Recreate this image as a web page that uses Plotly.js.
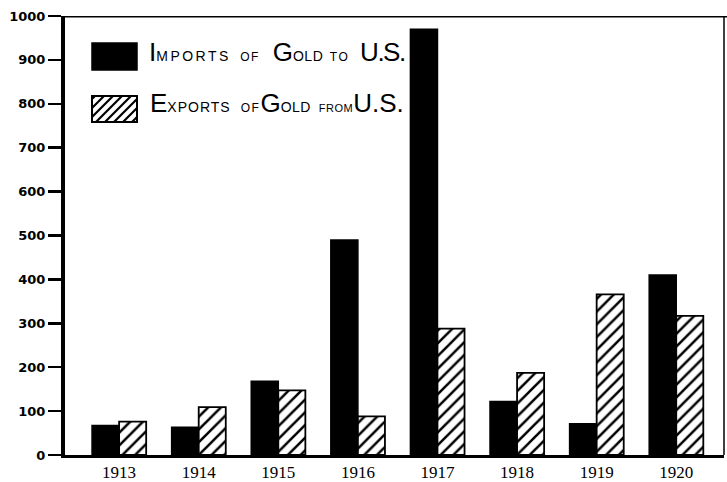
<!DOCTYPE html>
<html>
<head>
<meta charset="utf-8">
<script src="https://cdn.plot.ly/plotly-3.0.1.min.js"></script>
<style>html,body{margin:0;padding:0;background:#fff;}#chart{width:727px;height:482px;}</style>
</head>
<body>
<div id="chart"></div>
<script>
var years = ['1913','1914','1915','1916','1917','1918','1919','1920'];
var imports = [67, 63, 168, 490, 970, 122, 71, 410];
var exports = [76, 109, 147, 88, 288, 187, 366, 317];
var yTicks = [0,100,200,300,400,500,600,700,800,900,1000];

var W = 727, H = 482;
var mL = 65, mR = 3, mT = 16, mB = 27;
var pw = W - mL - mR, ph = H - mT - mB;
function px(x){ return (x - mL) / pw; }
function py(y){ return (H - mB - y) / ph; }

var traceImp = {
  type: 'bar', x: years, y: imports, name: 'Imports of Gold to U.S.',
  marker: {color: '#000', line: {color: '#000', width: 1.5}},
  hoverinfo: 'x+y'
};
var traceExp = {
  type: 'bar', x: years, y: exports, name: 'Exports of Gold from U.S.',
  marker: {color: '#fff', line: {color: '#000', width: 1.8},
    pattern: {shape: '/', fgcolor: '#000', bgcolor: '#fff', size: 9, solidity: 0.28}},
  hoverinfo: 'x+y'
};

var bx0 = 92, bx1 = 137;
var shapes = [
  {type:'line', xref:'paper', yref:'y', x0:0, x1:1.01, y0:1000, y1:1000, line:{color:'#000', width:3}, layer:'above'},
  {type:'line', xref:'paper', yref:'paper', x0:1, x1:1, y0:0, y1:1, line:{color:'#000', width:1.5}, layer:'above'},
  {type:'rect', xref:'paper', yref:'paper', x0:px(bx0), x1:px(bx1), y0:py(70), y1:py(43), fillcolor:'#000', line:{color:'#000', width:1.5}},
  {type:'rect', xref:'paper', yref:'paper', x0:px(bx0), x1:px(bx1), y0:py(122), y1:py(96), fillcolor:'#fff', line:{color:'#000', width:2}}
];
(function(){
  var top = 96, bot = 122, hgt = bot - top, step = 9;
  var path = '';
  for (var c = bx0 - hgt + 3; c < bx1; c += step) {
    var xa = c, ya = bot, xb = c + hgt, yb = top;
    if (xa < bx0) { ya = bot - (bx0 - xa); xa = bx0; }
    if (xb > bx1) { yb = top + (xb - bx1); xb = bx1; }
    if (xb <= xa) continue;
    path += 'M' + px(xa) + ',' + py(ya) + ' L' + px(xb) + ',' + py(yb) + ' ';
  }
  shapes.push({type:'path', xref:'paper', yref:'paper', path: path, line:{color:'#000', width:2.2}});
})();

function sp(size, ls, t){ return '<span style="font-size:' + size + 'px;letter-spacing:' + ls + 'px">' + t + '</span>'; }
function gap(ls){ return sp(14, ls, '\u00A0'); }

var impText = 'I' + sp(14, 2.5, 'MPORTS') + gap(5.5) + sp(12, 1.5, 'OF') + gap(8.9) +
  'G' + sp(14, 0.5, 'OLD') + gap(2.6) + sp(12, 1.5, 'TO') + gap(7) + sp(26, -1.5, 'U.S.');
var expText = 'E' + sp(14, 1, 'XPORTS') + gap(6.2) + sp(12, 1.5, 'OF') +
  'G' + sp(14, 0.5, 'OLD') + gap(3.9) + sp(11, 0.5, 'FROM') + sp(26, 0, 'U.S.');

var legendFont = {family:'Liberation Sans', size:26, color:'#000'};
var annotations = [
  {xref:'paper', yref:'paper', x:px(147), y:py(52.5), xanchor:'left', yanchor:'middle', showarrow:false, text:impText, font:legendFont},
  {xref:'paper', yref:'paper', x:px(148), y:py(103.5), xanchor:'left', yanchor:'middle', showarrow:false, text:expText, font:legendFont}
];

var layout = {
  width: W, height: H,
  margin: {l: mL, r: mR, t: mT, b: mB, pad: 0},
  paper_bgcolor: '#fff', plot_bgcolor: '#fff',
  showlegend: false,
  barmode: 'group', bargap: 0.32, bargroupgap: 0,
  xaxis: {type:'category', range:[-0.68, 7.6], showline:true, linecolor:'#000', linewidth:3,
    ticks:'', showgrid:false, zeroline:false, fixedrange:true,
    tickfont:{family:'Liberation Serif', size:17, color:'#000'}},
  yaxis: {range:[0,1000], tickvals: yTicks, ticktext: yTicks.map(String),
    showline:true, linecolor:'#000', linewidth:4, ticks:'outside', ticklen:13, tickwidth:2.5, tickcolor:'#000',
    showgrid:false, zeroline:false, fixedrange:true,
    tickfont:{family:'DejaVu Sans', size:13, color:'#000', weight:'bold'}},
  shapes: shapes,
  annotations: annotations
};

Plotly.newPlot('chart', [traceImp, traceExp], layout, {displayModeBar:false, staticPlot:true});
</script>
</body>
</html>
